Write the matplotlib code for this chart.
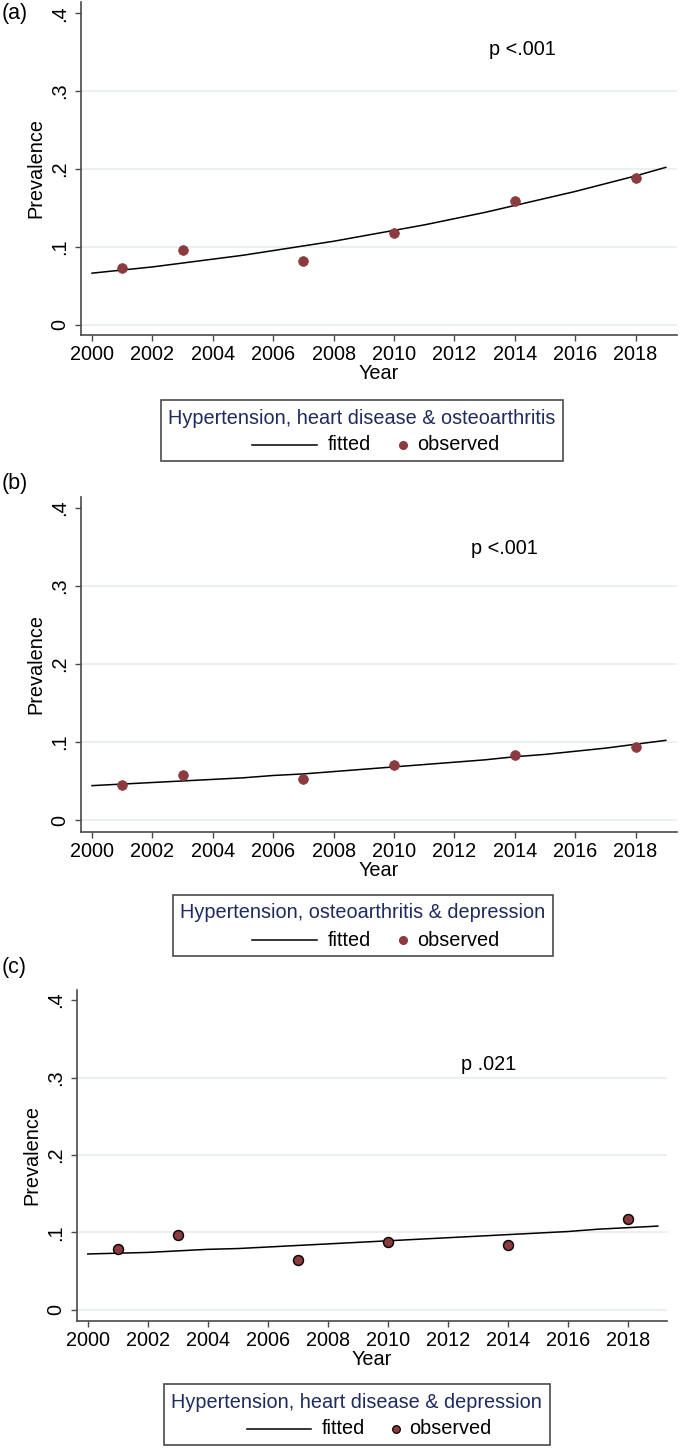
import numpy as np
import matplotlib.pyplot as plt
from matplotlib.patches import Rectangle
from matplotlib.lines import Line2D

plt.rcParams['font.family'] = ['Liberation Sans', 'DejaVu Sans']

# ---------------- data ----------------
obs_years = [2001, 2003, 2007, 2010, 2014, 2018]
fit_years = list(range(2000, 2020))

obs_a = [0.073, 0.096, 0.082, 0.118, 0.159, 0.188]
fit_a = [0.066, 0.070, 0.074, 0.079, 0.084, 0.089, 0.095, 0.101, 0.107, 0.114,
         0.121, 0.128, 0.136, 0.144, 0.153, 0.162, 0.171, 0.181, 0.191, 0.202]

obs_b = [0.045, 0.057, 0.052, 0.070, 0.083, 0.094]
fit_b = [0.044, 0.046, 0.048, 0.050, 0.052, 0.054, 0.057, 0.059, 0.062, 0.065,
         0.068, 0.071, 0.074, 0.077, 0.081, 0.084, 0.088, 0.092, 0.097, 0.102]

obs_c = [0.078, 0.096, 0.064, 0.087, 0.083, 0.117]
fit_c = [0.072, 0.073, 0.074, 0.076, 0.078, 0.079, 0.081, 0.083, 0.085, 0.087,
         0.089, 0.091, 0.093, 0.095, 0.097, 0.099, 0.101, 0.104, 0.106, 0.108]

panel_tags = ['(a)', '(b)', '(c)']
p_texts = ['p <.001', 'p <.001', 'p .021']
legend_titles = ['Hypertension, heart disease & osteoarthritis',
                 'Hypertension, osteoarthritis & depression',
                 'Hypertension, heart disease & depression']
yticks = [0, 0.1, 0.2, 0.3, 0.4]
ytick_labels = ['0', '.1', '.2', '.3', '.4']
xticks = list(range(2000, 2019, 2))

# ---------------- layout (pixels) ----------------
W, H = 681, 1448
fig = plt.figure(figsize=(W / 100, H / 100), dpi=100)

def fx(x):
    return x / W

def fy(y):
    return 1 - y / H

FS = 14.3
maroon = '#8B3A3E'
navy = '#1F2B5E'
axcol = '#4A4A4A'

# left, right, top, bottom, px of 2000, px per year, px of y=0, px per 0.1
boxes = [
    (81, 677, 2, 335, 92.0, 30.2, 324.5, 77.8),
    (81, 677, 497, 831.5, 92.0, 30.2, 820.0, 78.1),
    (77, 667, 990, 1320.7, 87.8, 30.0, 1309.7, 77.4),
]
p_pos = [(2013.15, 0.354), (2012.54, 0.348), (2012.43, 0.317)]
tag_pos = [(2, 13), (2, 484), (2, 967)]
# legend: box left, box top, line x0, line x1, fitted x, marker x, observed x
leg = [
    (161, 400, 252, 317, 328, 403, 417),
    (173, 895, 252, 317, 328, 403, 417),
    (164, 1384, 247, 311, 322, 396, 409),
]

obs_all = [obs_a, obs_b, obs_c]
fit_all = [fit_a, fit_b, fit_c]

fig.canvas.draw()
renderer = fig.canvas.get_renderer()

for i in range(3):
    l, r, t, b, x0, dx, y0, dy = boxes[i]
    ax = fig.add_axes([fx(l), fy(b), (r - l) / W, (b - t) / H])
    ax.set_xlim(2000 - (x0 - l) / dx, 2000 + (r - x0) / dx)
    ax.set_ylim((y0 - b) / dy * 0.1, (y0 - t) / dy * 0.1)

    for g in [0, 0.1, 0.2, 0.3]:
        ax.axhline(g, color='#E6EDED', lw=1.2, zorder=0)

    ax.plot(fit_years, fit_all[i], color='black', lw=1.1, zorder=2)
    if i == 2:
        ax.plot(obs_years, obs_all[i], 'o', ms=7.2, mfc=maroon, mec='black',
                mew=1.0, zorder=3)
    else:
        ax.plot(obs_years, obs_all[i], 'o', ms=7.0, mfc=maroon, mec=maroon,
                mew=0.5, zorder=3)

    for s in ['top', 'right']:
        ax.spines[s].set_visible(False)
    for s in ['left', 'bottom']:
        ax.spines[s].set_color(axcol)
        ax.spines[s].set_linewidth(1.2)

    ax.set_xticks(xticks)
    ax.set_yticks(yticks)
    ax.set_yticklabels(ytick_labels, rotation=90, va='center')
    ax.tick_params(direction='out', length=4.3, width=1.0, color=axcol,
                   labelsize=FS, pad=3)
    ax.tick_params(axis='y', pad=4)

    ax.set_xlabel('Year', fontsize=FS, labelpad=0)
    ax.set_ylabel('Prevalence', fontsize=FS, labelpad=4)

    px, py = p_pos[i]
    ax.text(px, py, p_texts[i], fontsize=FS, ha='left', va='center')

    tx, ty = tag_pos[i]
    fig.text(fx(tx), fy(ty), panel_tags[i], fontsize=15.5, ha='left', va='center')

    # legend box drawn by hand, Stata style
    bl, bt, lx0, lx1, ftx, mkx, obx = leg[i]
    title = fig.text(fx(bl + 7), fy(bt + 18), legend_titles[i], fontsize=FS,
                     color=navy, ha='left', va='center')
    ext = title.get_window_extent(renderer=renderer)
    br = ext.x1 + 8
    fig.patches.append(Rectangle((fx(bl), fy(bt + 61)), (br - bl) / W, 61 / H,
                                 transform=fig.transFigure, fill=False,
                                 ec=axcol, lw=1.2))
    ey = fy(bt + 45)
    fig.lines.append(Line2D([fx(lx0), fx(lx1)], [ey, ey], color='black', lw=1.1,
                            transform=fig.transFigure))
    fig.text(fx(ftx), ey, 'fitted', fontsize=FS, ha='left', va='center')
    if i == 2:
        fig.lines.append(Line2D([fx(mkx)], [ey], marker='o', ms=5.5, mfc=maroon,
                                mec='black', mew=0.9, transform=fig.transFigure))
    else:
        fig.lines.append(Line2D([fx(mkx)], [ey], marker='o', ms=5.5, mfc=maroon,
                                mec=maroon, transform=fig.transFigure))
    fig.text(fx(obx), ey, 'observed', fontsize=FS, ha='left', va='center')

fig.savefig('out.png', dpi=100)
